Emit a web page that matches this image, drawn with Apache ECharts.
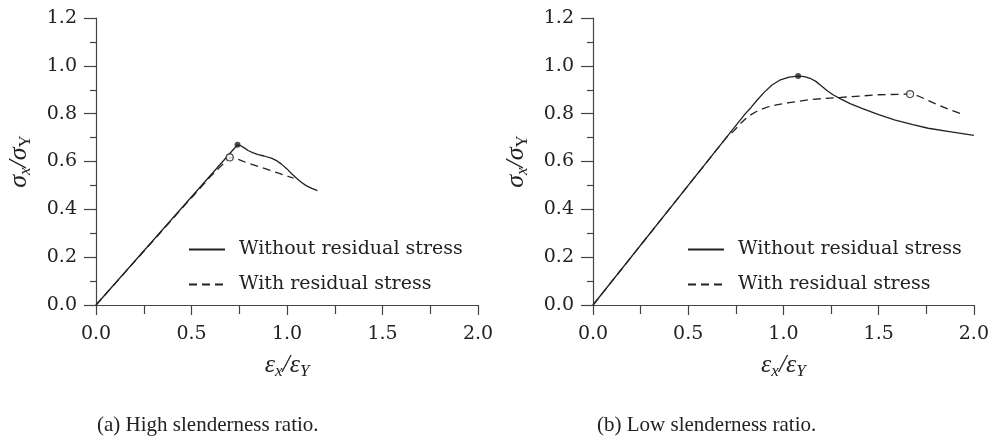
<!DOCTYPE html>
<html>
<head>
<meta charset="utf-8">
<script src="https://cdn.jsdelivr.net/npm/echarts@6/dist/echarts.min.js"></script>
<style>
  html, body { margin: 0; padding: 0; background: #fff; }
  #main { width: 992px; height: 442px; }
</style>
</head>
<body>
<div id="main"></div>
<script>
// curves, [strain ratio, stress ratio]
const highWithout = [[0, 0], [0.741, 0.670], [0.76, 0.665], [0.78, 0.655], [0.796, 0.646], [0.82, 0.637],
  [0.849, 0.629], [0.88, 0.623], [0.918, 0.614], [0.945, 0.604], [0.971, 0.589], [1.0, 0.569], [1.023, 0.550],
  [1.05, 0.530], [1.075, 0.513], [1.10, 0.499], [1.13, 0.488], [1.159, 0.478]];
const highWith = [[0, 0], [0.35, 0.314], [0.6, 0.538], [0.70, 0.617], [0.726, 0.615], [0.796, 0.593],
  [0.901, 0.566], [0.96, 0.550], [1.035, 0.530]];
const lowWithout = [[0, 0], [0.80, 0.800], [0.83, 0.826], [0.86, 0.855], [0.90, 0.890], [0.94, 0.920],
  [0.98, 0.940], [1.03, 0.953], [1.077, 0.957], [1.11, 0.955], [1.14, 0.948], [1.17, 0.935], [1.20, 0.916],
  [1.23, 0.896], [1.26, 0.879], [1.30, 0.862], [1.35, 0.842], [1.412, 0.822], [1.5, 0.796], [1.587, 0.773],
  [1.68, 0.754], [1.76, 0.739], [1.88, 0.724], [2.0, 0.709]];
const lowWith = [[0, 0], [0.70, 0.700], [0.74, 0.728], [0.77, 0.755], [0.80, 0.778], [0.83, 0.796],
  [0.856, 0.808], [0.89, 0.820], [0.925, 0.830], [0.97, 0.838], [1.03, 0.846], [1.151, 0.860], [1.30, 0.868],
  [1.5, 0.879], [1.665, 0.882], [1.708, 0.874], [1.76, 0.855], [1.813, 0.836], [1.88, 0.815], [1.943, 0.797]];
const peaksWithout = [[[0.741, 0.670]], [[1.077, 0.957]]];
const peaksWith = [[[0.70, 0.617]], [[1.665, 0.882]]];
const seriesNames = ['Without residual stress', 'With residual stress'];
const captions = ['(a) High slenderness ratio.', '(b) Low slenderness ratio.'];

const ink = '#222';
const font = 'DejaVu Serif';
const capFont = 'Liberation Serif';

const myChart = echarts.init(document.getElementById('main'));

const grids = [
  { left: 96, right: 514, top: 18, bottom: 137 },
  { left: 593, right: 16, top: 18, bottom: 137 }
];

const axisNameRich = {
  m: { fontFamily: capFont, fontStyle: 'italic', fontSize: 26, color: ink, lineHeight: 30 },
  s: { fontFamily: capFont, fontStyle: 'italic', fontSize: 17, color: ink, verticalAlign: 'bottom', lineHeight: 30, padding: [9, 0, 0, 0] },
  u: { fontFamily: capFont, fontSize: 17, color: ink, verticalAlign: 'bottom', lineHeight: 30, padding: [9, 0, 0, 0] }
};

function xAx(i) {
  return {
    gridIndex: i, type: 'value', min: 0, max: 2, interval: 0.5,
    name: '{m|ε}{s|x}{m|/ε}{s|Y}', nameLocation: 'middle', nameGap: 45,
    nameTextStyle: { rich: axisNameRich },
    axisLine: { lineStyle: { color: '#444', width: 1.2 } },
    axisTick: { length: 10, lineStyle: { color: '#444', width: 1.2 } },
    minorTick: { show: true, splitNumber: 2, length: 9, lineStyle: { color: '#444', width: 1.2 } },
    axisLabel: { margin: 20, fontFamily: font, fontSize: 19, color: ink, formatter: v => v.toFixed(1) },
    splitLine: { show: false }
  };
}
function yAx(i) {
  return {
    gridIndex: i, type: 'value', min: 0, max: 1.2, interval: 0.2,
    name: '{m|σ}{s|x}{m|/σ}{u|Y}', nameLocation: 'middle', nameGap: 62,
    nameTextStyle: { rich: axisNameRich },
    axisLine: { lineStyle: { color: '#444', width: 1.2 } },
    axisTick: { length: 12, lineStyle: { color: '#444', width: 1.2 } },
    minorTick: { show: true, splitNumber: 2, length: 6, lineStyle: { color: '#444', width: 1.2 } },
    axisLabel: { margin: 19, fontFamily: font, fontSize: 19, color: ink, formatter: v => v.toFixed(1) },
    splitLine: { show: false }
  };
}

function lineSeries(name, data, i, dashed) {
  return {
    name: name, type: 'line', xAxisIndex: i, yAxisIndex: i, data: data,
    symbol: 'none', smooth: false, animation: false,
    lineStyle: { color: ink, width: 1.3, type: dashed ? [8, 5] : 'solid' },
    itemStyle: { color: ink }
  };
}
function peakSeries(data, i, hollow) {
  return {
    type: 'scatter', xAxisIndex: i, yAxisIndex: i, data: data, symbolSize: hollow ? 7 : 6,
    animation: false, z: 5,
    itemStyle: hollow ? { color: '#fff', borderColor: ink, borderWidth: 1.2 } : { color: ink }
  };
}

function legendAt(left) {
  return {
    left: left, top: 240, orient: 'vertical', padding: 0, itemWidth: 36, itemHeight: 14, itemGap: 16,
    data: seriesNames, selectedMode: false,
    itemStyle: { opacity: 0 },
    textStyle: { fontFamily: font, fontSize: 19, color: ink, padding: [0, 0, 0, 9] }
  };
}

const option = {
  backgroundColor: '#fff',
  animation: false,
  grid: grids,
  xAxis: [xAx(0), xAx(1)],
  yAxis: [yAx(0), yAx(1)],
  legend: [legendAt(188), legendAt(687)],
  title: [
    { text: captions[0], left: 97, top: 415, padding: 0, textStyle: { fontFamily: capFont, fontSize: 21, fontWeight: 'normal', color: ink } },
    { text: captions[1], left: 597, top: 415, padding: 0, textStyle: { fontFamily: capFont, fontSize: 21, fontWeight: 'normal', color: ink } }
  ],
  series: [
    lineSeries(seriesNames[0], highWithout, 0, false),
    lineSeries(seriesNames[1], highWith, 0, true),
    lineSeries(seriesNames[0], lowWithout, 1, false),
    lineSeries(seriesNames[1], lowWith, 1, true),
    peakSeries(peaksWithout[0], 0, false),
    peakSeries(peaksWith[0], 0, true),
    peakSeries(peaksWithout[1], 1, false),
    peakSeries(peaksWith[1], 1, true)
  ]
};

myChart.setOption(option);
</script>
</body>
</html>
